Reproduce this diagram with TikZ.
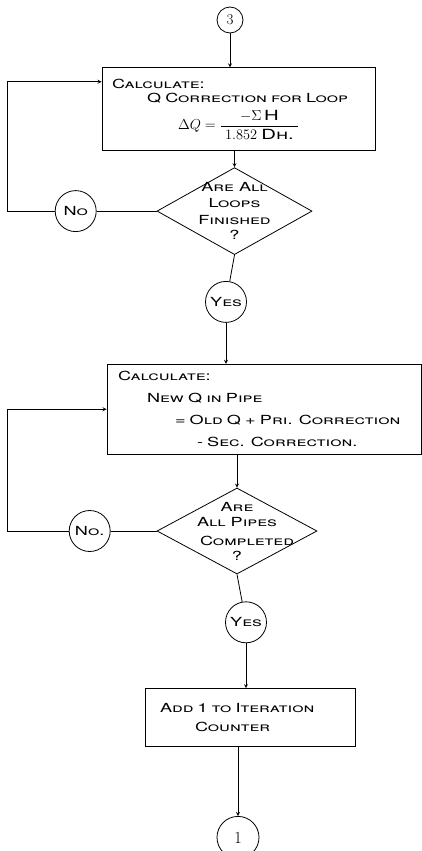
\documentclass[tikz,border=0pt]{standalone}
\usepackage{amsmath}
\usepackage{fontspec}
\newfontfamily\handfont{TeX Gyre Heros}[FakeStretch=1.45]
\newcommand\handstyle{\handfont\fontsize{12.5}{15}\selectfont\scshape}
\usepackage{tikz}
\usetikzlibrary{positioning,shapes.geometric}

\begin{document}
\begin{tikzpicture}[>=stealth,line width=0.8pt,
      font=\handstyle,
      conn node/.style={circle,draw,inner sep=0pt},
      calc box/.style={rectangle,draw,inner ysep=0pt,align=left},
      test node/.style={diamond,draw,inner sep=0pt},
      answer node/.style={circle,draw,inner sep=0pt,minimum size=41pt}]
      \useasboundingbox (0,0) rectangle (422pt,-851pt);

      \node[conn node,minimum size=26pt,font=\fontsize{15}{18}\selectfont] (c3) at (230pt,-20pt) {3};
      \node[calc box,minimum width=273pt,minimum height=83pt,inner xsep=10pt,text width=253pt]
        (loopcalc) [below=34pt of c3,xshift=8.5pt]
        {Calculate:\\[-1pt]
         \hspace*{35pt}Q Correction for Loop\\[6pt]
         \hspace*{66pt}{\fontsize{14}{16}\selectfont$\Delta Q = \dfrac{\;-\Sigma\,\text{H}\;}{\;1.852\ \text{Dh.}\;}$}};
      \node[test node,minimum width=155pt,minimum height=87pt,
        label={[align=center]center:{Are All\\[1pt]Loops\\[2pt]Finished\\[0pt]?}}]
        (loopsdone) [below=16pt of loopcalc,xshift=-4pt] {};
      \node[answer node] (loopsno) [left=60pt of loopsdone] {No};
      \node[answer node] (loopsyes) [below=26pt of loopsdone,xshift=-8.5pt] {Yes};

      \node[calc box,minimum width=314pt,minimum height=90pt,inner xsep=11pt,text width=292pt]
        (pipecalc) [below=41pt of loopsyes,xshift=38pt]
        {Calculate:\\[7pt]
         \hspace*{29pt}New Q in Pipe\\[7pt]
         \hspace*{57pt}= Old Q + Pri. Correction\\[7pt]
         \hspace*{79pt}- Sec. Correction.};
      \node[test node,minimum width=160pt,minimum height=86pt,
        label={[align=center]center:{Are\\[0pt]All Pipes\\[4pt]\hspace*{20pt}Completed\\[0pt]?}}]
        (pipesdone) [below=33pt of pipecalc,xshift=-27pt] {};
      \node[answer node] (pipesno) [left=46pt of pipesdone] {No.};
      \node[answer node] (pipesyes) [below=27pt of pipesdone,xshift=9pt] {Yes};

      \node[calc box,minimum width=210pt,minimum height=58pt,inner xsep=15pt,text width=180pt]
        (counter) [below=45pt of pipesyes,xshift=4pt]
        {Add 1 to Iteration\\[4pt]
         \hspace*{35pt}Counter};
      \node[conn node,minimum size=42pt,font=\fontsize{17}{20}\selectfont] (c1) [below=69pt of counter,xshift=-12pt] {1};

      % main line
      \draw[->] (c3) -- (c3 |- loopcalc.north);
      \draw[->] (loopcalc.south -| loopsdone.north) -- (loopsdone.north);
      \draw (loopsdone.south) -- (loopsyes);
      \draw[->] (loopsyes) -- (loopsyes |- pipecalc.north);
      \draw[->] (pipecalc.south -| pipesdone.north) -- (pipesdone.north);
      \draw (pipesdone.south) -- (pipesyes);
      \draw[->] (pipesyes) -- (pipesyes |- counter.north);
      \draw[->] (counter.south -| c1.north) -- (c1.north);

      % loops back
      \draw (loopsdone.west) -- (loopsno);
      \draw[->] (loopsno.west) -- ++(-47pt,0) |- ([yshift=27.5pt]loopcalc.west);
      \draw (pipesdone.west) -- (pipesno);
      \draw[->] (pipesno.west) -- ++(-61pt,0) |- (pipecalc.west);
    \end{tikzpicture}
\end{document}
